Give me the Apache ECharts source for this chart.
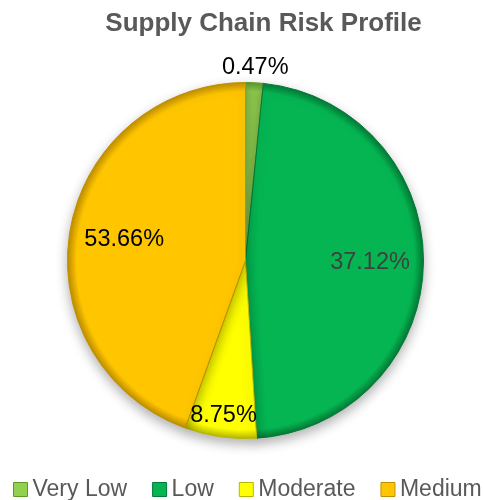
<!DOCTYPE html>
<html>
<head>
<meta charset="utf-8">
<script src="https://cdn.jsdelivr.net/npm/echarts@6/dist/echarts.min.js"></script>
<style>html,body{margin:0;padding:0;background:#fff}#c{width:485px;height:500px}</style>
</head>
<body>
<div id="c"></div>
<script>
// Data (slice sizes as drawn, printed labels as shown)
const categories = ['Very Low', 'Low', 'Moderate', 'Medium'];
const sliceValues = [1.6, 47.4, 6.5, 44.5];
const labelTexts = ['0.47%', '37.12%', '8.75%', '53.66%'];

const colors = ['#92D050', '#05B552', '#FFFF00', '#FFC600'];
const rims = ['#5E9A2A', '#037A36', '#B8B800', '#C08F00'];
const labelColors = ['#000000', '#404040', '#000000', '#000000'];
const labelRadiusFrac = [1.07, 0.683, 0.86, 0.675];

const CX = 245.5, CY = 260.5, R = 178;

const total = sliceValues.reduce((a, b) => a + b, 0);
const midAngles = [];
let acc = 0;
sliceValues.forEach(v => { midAngles.push((acc + v / 2) / total * Math.PI * 2); acc += v; });

function grad(i) {
  return {
    type: 'radial', x: CX, y: CY, r: R, global: true,
    colorStops: [
      { offset: 0, color: colors[i] },
      { offset: 0.95, color: colors[i] },
      { offset: 1, color: rims[i] }
    ]
  };
}

const chart = echarts.init(document.getElementById('c'), null, { renderer: 'canvas' });
chart.setOption({
  backgroundColor: '#ffffff',
  animation: false,
  title: {
    text: 'Supply Chain Risk Profile',
    left: 258.5, textAlign: 'center', top: 6,
    textStyle: { fontFamily: 'Liberation Sans, Arial', fontWeight: 'bold', fontSize: 26, color: '#595959' }
  },
  legend: {
    left: 13, top: 478, width: 700, padding: 0,
    itemWidth: 14, itemHeight: 14, itemGap: 25, itemTextGap: 5,
    icon: 'rect',
    textStyle: { fontFamily: 'Liberation Sans, Arial', fontSize: 23, color: '#595959' },
    data: categories.map((c, i) => ({ name: c, itemStyle: { color: colors[i], borderColor: rims[i], borderWidth: 1 } }))
  },
  series: [{
    type: 'pie',
    center: [CX, CY],
    radius: [0, R],
    startAngle: 90,
    clockwise: true,
    avoidLabelOverlap: false,
    label: {
      show: true,
      position: 'inside',
      fontFamily: 'Liberation Sans, Arial',
      fontSize: 23.5,
      formatter: p => labelTexts[p.dataIndex]
    },
    labelLine: { show: false },
    labelLayout: function (p) {
      const i = p.dataIndex;
      const a = midAngles[i];
      const shift = (labelRadiusFrac[i] - 0.5) * R;
      return { dx: Math.sin(a) * shift, dy: -Math.cos(a) * shift };
    },
    itemStyle: {
      borderWidth: 1,
      shadowBlur: 12, shadowOffsetY: 5, shadowColor: 'rgba(0,0,0,0.3)'
    },
    emphasis: { disabled: true },
    data: categories.map((c, i) => ({
      name: c,
      value: sliceValues[i],
      itemStyle: { color: grad(i), borderColor: rims[i] },
      label: { color: labelColors[i] }
    }))
  }]
});
</script>
</body>
</html>
